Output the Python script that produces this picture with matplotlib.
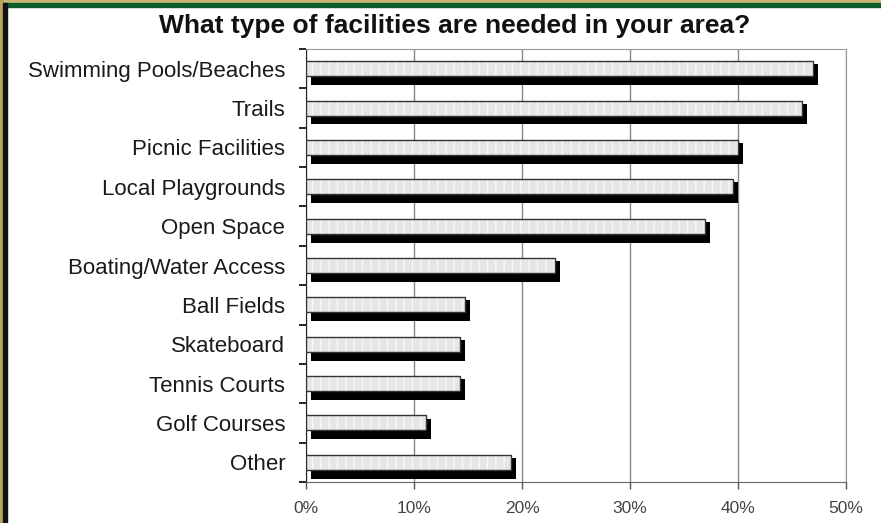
import matplotlib
matplotlib.use("Agg")
import matplotlib.pyplot as plt
import matplotlib.transforms as mtransforms
from matplotlib.patches import Rectangle

categories = ["Swimming Pools/Beaches", "Trails", "Picnic Facilities", "Local Playgrounds",
              "Open Space", "Boating/Water Access", "Ball Fields", "Skateboard",
              "Tennis Courts", "Golf Courses", "Other"]
values = [46.9, 45.9, 40.0, 39.5, 36.9, 23.1, 14.7, 14.3, 14.3, 11.1, 19.0]
xticks = [0, 10, 20, 30, 40, 50]
xticklabels = ["0%", "10%", "20%", "30%", "40%", "50%"]
title = "What type of facilities are needed in your area?"

plt.rcParams['font.family'] = ['Liberation Sans', 'DejaVu Sans']
plt.rcParams['hatch.linewidth'] = 1.0

W, H = 881, 523
fig = plt.figure(figsize=(W / 100, H / 100), dpi=100)
fig.patch.set_facecolor("white")

ax = fig.add_axes([306 / W, 1 - 482 / H, (846 - 306) / W, (482 - 49) / H])
n = len(categories)
ypos = list(range(n))

# shadow bars (black), offset right/down
shadow_tr = mtransforms.offset_copy(ax.transData, fig=fig, x=5, y=-6, units='dots')
ax.barh(ypos, values, height=0.53, color="black", transform=shadow_tr, zorder=3)
# gray hatched bars
ax.barh(ypos, values, height=0.38, color="#e6e6e6", edgecolor="#f8f8f8", hatch="||",
        linewidth=0, zorder=4)
ax.barh(ypos, values, height=0.38, fill=False, edgecolor="#333333", linewidth=1.0, zorder=5)

ax.set_xlim(0, 50)
ax.set_ylim(n - 0.5, -0.5)
ax.set_xticks(xticks)
ax.set_xticklabels(xticklabels, fontsize=12.5, color="#444444")
ax.set_yticks(ypos)
ax.set_yticklabels(categories, fontsize=16, color="#1a1a1a")
ax.set_yticks([i + 0.5 for i in range(-1, n)], minor=True)
ax.tick_params(axis='y', which='major', length=0, pad=15)
ax.tick_params(axis='y', which='minor', length=5, width=1.2, color="black", direction='out')
ax.tick_params(axis='x', length=5, width=1, color="#555555", direction='out', pad=9)

ax.grid(axis='x', color="#888888", linewidth=1.0, zorder=0)
ax.set_axisbelow(True)
for side in ["top", "right"]:
    ax.spines[side].set_color("#999999")
ax.spines["bottom"].set_color("#666666")
ax.spines["left"].set_color("#222222")

fig.text(455 / W, 1 - 26 / H, title, ha="center", va="center", fontsize=19,
         fontweight="bold", color="#111111")

# outer frame
fig.patches.append(Rectangle((0, 1 - 3 / H), 1, 3 / H, transform=fig.transFigure,
                             color="#cbb878", zorder=10))
fig.patches.append(Rectangle((0, 1 - 7 / H), 1, 4 / H, transform=fig.transFigure,
                             color="#0d5e2c", zorder=10))
fig.patches.append(Rectangle((0, 0), 3 / W, 1, transform=fig.transFigure,
                             color="#b9a45c", zorder=11))
fig.patches.append(Rectangle((3 / W, 0), 4 / W, 1 - 3 / H, transform=fig.transFigure,
                             color="#111111", zorder=11))

fig.savefig("out.png", dpi=100)
